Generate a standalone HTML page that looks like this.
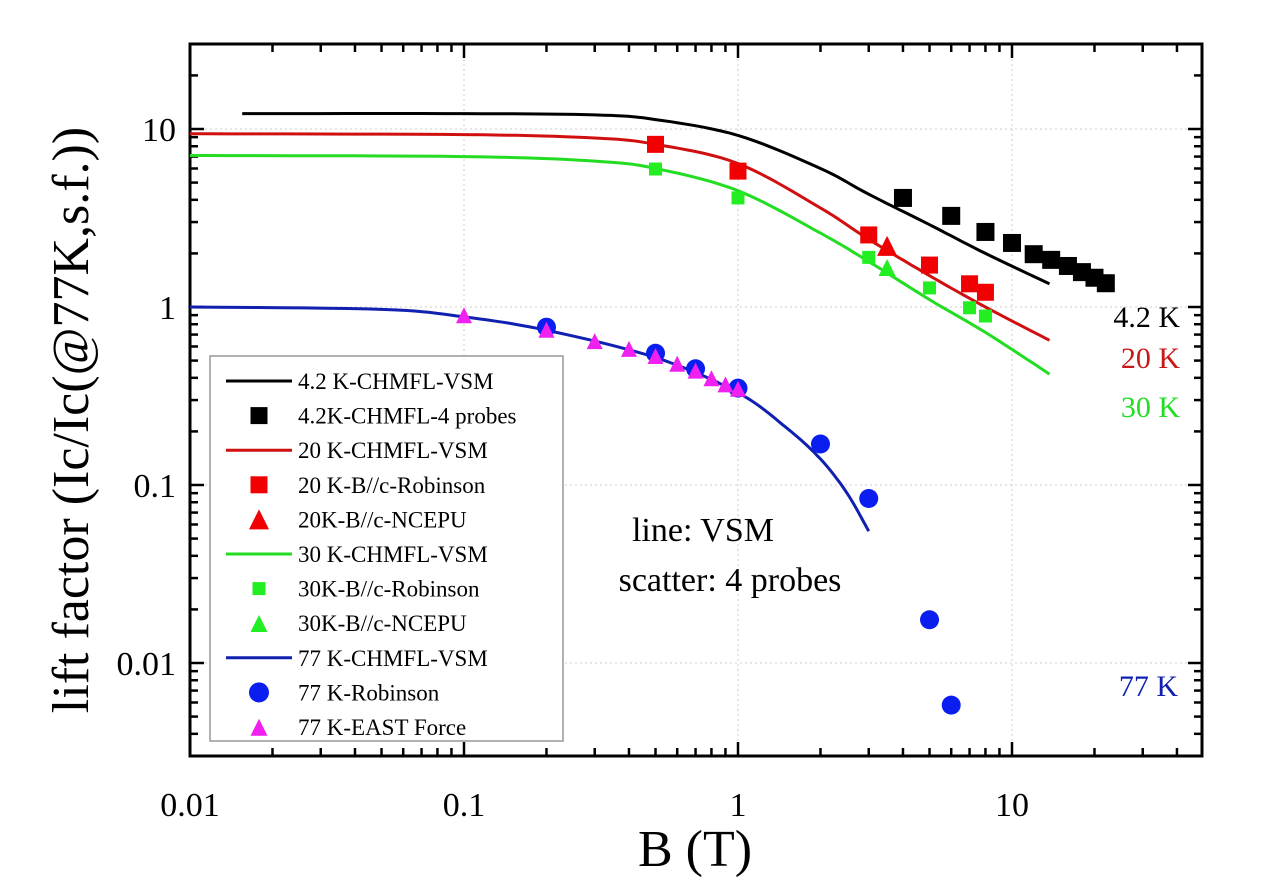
<!DOCTYPE html>
<html><head><meta charset="utf-8"><style>
html,body{margin:0;padding:0;background:#fff;}
svg{display:block;font-family:"Liberation Serif",serif;}
</style></head><body>
<svg id="s" width="1266" height="890" viewBox="0 0 1266 890" xmlns="http://www.w3.org/2000/svg"></svg>
<script>
const L=190,R=1202,T=44,B=756;
const X=v=>738+274*Math.log10(v);
const Y=v=>307-178*Math.log10(v);
let h='<rect width="1266" height="890" fill="#fff"/>';
[0.1,1,10].forEach(v=>h+=`<line x1="${X(v)}" x2="${X(v)}" y1="${T}" y2="${B}" stroke="#ccc" stroke-dasharray="2,3"/>`);
[0.01,0.1,1,10].forEach(v=>h+=`<line x1="${L}" x2="${R}" y1="${Y(v)}" y2="${Y(v)}" stroke="#ccc" stroke-dasharray="2,3"/>`);
for(let d=-2;d<=1;d++)for(let m=1;m<10;m++){const v=m*Math.pow(10,d),x=X(v);if(x>R)break;const len=m==1?14:8;
 h+=`<line x1="${x}" x2="${x}" y1="${B}" y2="${B-len}" stroke="#000" stroke-width="2.5"/><line x1="${x}" x2="${x}" y1="${T}" y2="${T+len}" stroke="#000" stroke-width="2.5"/>`;}
for(let d=-3;d<=1;d++)for(let m=1;m<10;m++){const v=m*Math.pow(10,d),y=Y(v);if(y>B||y<T)continue;const len=m==1?14:8;
 h+=`<line x1="${L}" x2="${L+len}" y1="${y}" y2="${y}" stroke="#000" stroke-width="2.5"/><line x1="${R}" x2="${R-len}" y1="${y}" y2="${y}" stroke="#000" stroke-width="2.5"/>`;}
h+=`<rect x="${L}" y="${T}" width="${R-L}" height="${B-T}" fill="none" stroke="#000" stroke-width="3"/>`;
[[0.01,'0.01'],[0.1,'0.1'],[1,'1'],[10,'10']].forEach(([v,t])=>h+=`<text x="${X(v)}" y="816" font-size="34" text-anchor="middle">${t}</text>`);
[[10,'10'],[1,'1'],[0.1,'0.1'],[0.01,'0.01']].forEach(([v,t])=>h+=`<text x="176" y="${Y(v)+12}" font-size="34" text-anchor="end">${t}</text>`);
h+=`<text x="695" y="866" font-size="52" text-anchor="middle">B (T)</text>`;
h+=`<text transform="translate(88,420) rotate(-90)" font-size="52" text-anchor="middle">lift factor (Ic/Ic(@77K,s.f.))</text>`;
function smooth(pts){let out=[];for(let i=0;i<pts.length-1;i++){const [a,b]=[pts[i],pts[i+1]];const p0=pts[i-1]||a,p3=pts[i+2]||b;
 for(let t=0;t<1;t+=0.1){const f=(k)=>{const P=[p0,a,b,p3].map(p=>k==0?Math.log10(p[0]):Math.log10(p[1]));return 0.5*((2*P[1])+(-P[0]+P[2])*t+(2*P[0]-5*P[1]+4*P[2]-P[3])*t*t+(-P[0]+3*P[1]-3*P[2]+P[3])*t*t*t);};
 out.push([Math.pow(10,f(0)),Math.pow(10,f(1))]);}}out.push(pts[pts.length-1]);return out;}
function line(pts,c){h+=`<polyline fill="none" stroke="${c}" stroke-width="3" points="${smooth(pts).map(p=>X(p[0]).toFixed(1)+','+Y(p[1]).toFixed(1)).join(' ')}"/>`;}
line([[0.0155,12.2],[0.1,12.2],[0.3,12],[0.5,11.3],[1,9.2],[2,6],[3,4.3],[5,2.9],[8,2.0],[13.7,1.35]],'#000');
line([[0.01,9.4],[0.1,9.3],[0.3,8.9],[0.5,8.2],[1,6.4],[2,3.6],[3,2.4],[5,1.5],[8,1.0],[13.7,0.65]],'#d01010');
line([[0.01,7.1],[0.1,7.0],[0.3,6.6],[0.5,6.0],[1,4.5],[2,2.6],[3,1.8],[5,1.1],[8,0.72],[13.7,0.42]],'#22dd22');
line([[0.01,1.0],[0.05,0.97],[0.1,0.88],[0.2,0.74],[0.5,0.52],[1,0.33],[1.5,0.21],[2,0.14],[2.5,0.09],[3,0.055]],'#1020b0');
const sq=(x,y,s,c)=>`<rect x="${x-s/2}" y="${y-s/2}" width="${s}" height="${s}" fill="${c}"/>`;
const tri=(x,y,s,c)=>`<polygon points="${x},${y-s*0.6} ${x-s/2},${y+s*0.4} ${x+s/2},${y+s*0.4}" fill="${c}"/>`;
const cir=(x,y,s,c)=>`<circle cx="${x}" cy="${y}" r="${s/2}" fill="${c}"/>`;
[[4,4.1],[6,3.25],[8,2.64],[10,2.29],[12,1.98],[13.9,1.84],[16,1.7],[18,1.57],[20,1.46],[22,1.36]].forEach(p=>h+=sq(X(p[0]),Y(p[1]),18,'#000'));
[[0.5,8.2],[1,5.8],[3,2.54],[5,1.72],[7,1.35],[8,1.21]].forEach(p=>h+=sq(X(p[0]),Y(p[1]),17,'#f00000'));
h+=tri(X(3.5),Y(2.15),20,'#f00000');
[[0.5,5.96],[1,4.1],[3,1.9],[5,1.28],[7,0.99],[8,0.89]].forEach(p=>h+=sq(X(p[0]),Y(p[1]),13,'#22ee22'));
h+=tri(X(3.5),Y(1.63),17,'#22ee22');
[[0.2,0.77],[0.5,0.55],[0.7,0.45],[1,0.35],[2,0.17],[3,0.084],[5,0.0175],[6,0.0058]].forEach(p=>h+=cir(X(p[0]),Y(p[1]),19,'#0a1ef0'));
[[0.1,0.88],[0.2,0.73],[0.3,0.63],[0.4,0.57],[0.5,0.52],[0.6,0.47],[0.7,0.43],[0.8,0.39],[0.9,0.36],[1,0.34]].forEach(p=>h+=tri(X(p[0]),Y(p[1]),16,'#f020f0'));
h+=`<rect x="210" y="356" width="353" height="385" fill="#fff" stroke="#999" stroke-width="1.5"/>`;
const items=[['l','#000','4.2 K-CHMFL-VSM'],['s','#000','4.2K-CHMFL-4 probes'],['l','#d01010','20 K-CHMFL-VSM'],['s','#f00000','20 K-B//c-Robinson'],['t','#f00000','20K-B//c-NCEPU'],['l','#22dd22','30 K-CHMFL-VSM'],['s2','#22ee22','30K-B//c-Robinson'],['t2','#22ee22','30K-B//c-NCEPU'],['l','#1020b0','77 K-CHMFL-VSM'],['c','#0a1ef0','77 K-Robinson'],['t2','#f020f0','77 K-EAST Force']];
items.forEach((it,i)=>{const y=381+i*34.6;const cx=259;
 if(it[0]=='l')h+=`<line x1="226" x2="292" y1="${y}" y2="${y}" stroke="${it[1]}" stroke-width="3"/>`;
 if(it[0]=='s')h+=sq(cx,y,17,it[1]);if(it[0]=='s2')h+=sq(cx,y,13,it[1]);
 if(it[0]=='t')h+=tri(cx,y+2,20,it[1]);if(it[0]=='t2')h+=tri(cx,y+2,17,it[1]);if(it[0]=='c')h+=cir(cx,y,20,it[1]);
 h+=`<text x="298" y="${y+8}" font-size="23">${it[2]}</text>`;});
h+=`<text x="1180" y="327" font-size="30" text-anchor="end">4.2 K</text>`;
h+=`<text x="1180" y="368" font-size="30" text-anchor="end" fill="#c81818">20 K</text>`;
h+=`<text x="1180" y="417" font-size="30" text-anchor="end" fill="#22dd22">30 K</text>`;
h+=`<text x="1178" y="696" font-size="30" text-anchor="end" fill="#1020b0">77 K</text>`;
h+=`<text x="703" y="541" font-size="34" text-anchor="middle">line: VSM</text>`;
h+=`<text x="730" y="591" font-size="34" text-anchor="middle">scatter: 4 probes</text>`;
document.getElementById('s').innerHTML=h;
</script>
</body></html>
